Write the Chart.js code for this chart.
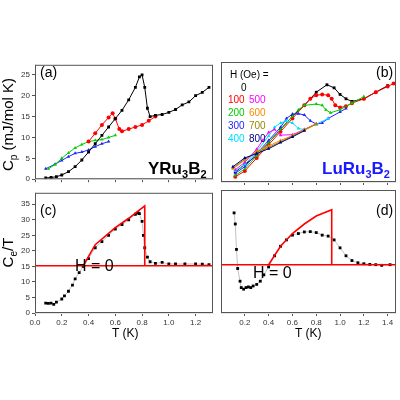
<!DOCTYPE html>
<html><head><meta charset="utf-8">
<script src="https://cdn.jsdelivr.net/npm/chart.js@4"></script>
<style>
body{margin:0;background:#fff;font-family:"Liberation Sans",Arial,sans-serif}
#w{position:relative;width:400px;height:400px;overflow:hidden}
.cv{position:absolute}
.t{position:absolute;white-space:nowrap;line-height:1}
</style></head><body><div id="w">
<div class="cv" style="left:0;top:58px;width:217px;height:128px"><canvas id="ca"></canvas></div>
<div class="cv" style="left:217px;top:58px;width:183px;height:128px"><canvas id="cb"></canvas></div>
<div class="cv" style="left:0;top:186px;width:217px;height:147px"><canvas id="cc"></canvas></div>
<div class="cv" style="left:217px;top:186px;width:183px;height:147px"><canvas id="cd"></canvas></div>
<div class="t" style="left:40px;top:65px;font-size:14px">(a)</div>
<div class="t" style="left:376px;top:65px;font-size:14px">(b)</div>
<div class="t" style="left:40px;top:203px;font-size:14px">(c)</div>
<div class="t" style="left:376px;top:203px;font-size:14px">(d)</div>
<div class="t" style="left:148px;top:160px;font-size:17px;font-weight:bold">YRu<sub style="font-size:11px">3</sub>B<sub style="font-size:11px">2</sub></div>
<div class="t" style="left:322px;top:160px;font-size:17px;font-weight:bold;color:#1a1aff">LuRu<sub style="font-size:11px">3</sub>B<sub style="font-size:11px">2</sub></div>
<div class="t" style="left:75px;top:258px;font-size:16px">H = 0</div>
<div class="t" style="left:253px;top:265px;font-size:16px">H = 0</div>
<div class="t" style="left:112px;top:327px;font-size:12px">T (K)</div>
<div class="t" style="left:295px;top:327px;font-size:12px">T (K)</div>
<div class="t" style="left:-46px;top:115px;font-size:15px;transform:rotate(-90deg);width:110px;text-align:center">C<sub style="font-size:10px">p</sub> (mJ/mol K)</div>
<div class="t" style="left:-16px;top:243px;font-size:15px;transform:rotate(-90deg);width:50px;text-align:center">C<sub style="font-size:10px">e</sub>/T</div>
<div class="t" style="left:230px;top:70px;font-size:10px">H (Oe) =</div>
<div class="t" style="left:241px;top:83px;font-size:10px">0</div>
<div class="t" style="left:228px;top:95px;font-size:10px;color:#f00">100</div>
<div class="t" style="left:228px;top:108px;font-size:10px;color:#0c0">200</div>
<div class="t" style="left:228px;top:121px;font-size:10px;color:#22f">300</div>
<div class="t" style="left:228px;top:134px;font-size:10px;color:#0df">400</div>
<div class="t" style="left:249px;top:95px;font-size:10px;color:#f0f">500</div>
<div class="t" style="left:249px;top:108px;font-size:10px;color:#f80">600</div>
<div class="t" style="left:249px;top:121px;font-size:10px;color:#998800">700</div>
<div class="t" style="left:249px;top:134px;font-size:10px;color:#000080">800</div>
</div>
<script>
// (a) YRu3B2
const aT0 = [0.08,0.12,0.16,0.2,0.25,0.3,0.35,0.4,0.45,0.5,0.55,0.6,0.65,0.7,0.75,0.78,0.8,0.82,0.84,0.86,0.9,0.95,1.0,1.05,1.1,1.15,1.2,1.25,1.3];
const aC0 = [0.3,0.4,0.6,1.0,1.8,3,4.6,6.5,8.5,10.5,12.5,14.5,16.5,19,22,24.5,25,22,17,15,15.3,15.5,16,16.7,17.8,18.5,20,20.8,22];
const aT1 = [0.4,0.45,0.5,0.55,0.58,0.6,0.63,0.65,0.7,0.75,0.8,0.85,0.9];
const aC1 = [9,11,13,14.8,15.8,14.5,12,11.5,12,12.5,13,14,15];
const aT2 = [0.1,0.15,0.2,0.25,0.3,0.35,0.4,0.45,0.5,0.55,0.6];
const aC2 = [2.5,3.5,5,6.3,7.5,8.3,9,9.3,9.5,10,10.5];
const aT3 = [0.08,0.15,0.2,0.25,0.3,0.35,0.4,0.45,0.5,0.55];
const aC3 = [2.5,3.6,4.5,5.4,6.2,6.5,7,7.8,8.5,9];
// (b) LuRu3B2, field in Oe
const bT0 = [0.12,0.2,0.3,0.4,0.5,0.6,0.7,0.8,0.89,0.95,1.0,1.05,1.1,1.2,1.3,1.4];
const bC0 = [2.3,4,6,9,12,15,17.5,20.5,22.2,21.5,20,19,18.4,19,20.5,22];
const bT100 = [0.12,0.2,0.3,0.4,0.5,0.6,0.7,0.75,0.8,0.85,0.9,0.93,0.96,1.0,1.05,1.1,1.2,1.3,1.4,1.45];
const bC100 = [1.2,2.5,5.5,8.5,11.5,14.5,17.5,19,19.8,20,19.8,19,17.5,17,17.3,18,19,20.5,21.8,22.5];
const bT200 = [0.12,0.2,0.3,0.4,0.5,0.6,0.65,0.7,0.8,0.85,0.88,0.92,1.0,1.1,1.2];
const bC200 = [1.5,3,6,9,12,15,16.5,17.5,17.8,17.5,16.5,15.8,16.5,18,19.5];
const bT300 = [0.12,0.2,0.3,0.4,0.5,0.55,0.6,0.65,0.7,0.75,0.8,0.85,0.9,1.0,1.05];
const bC300 = [2,3.5,6.5,9.5,12.5,14.5,15.5,15.6,15.3,14,13.2,13.5,14.5,16,16.8];
const bT400 = [0.12,0.2,0.3,0.4,0.45,0.5,0.55,0.6,0.65,0.7,0.8,0.9];
const bC400 = [2.5,4,7,10.5,12.5,13.5,13.9,13.5,12.2,12,13.2,14.5];
const bT500 = [0.12,0.2,0.3,0.35,0.4,0.45,0.5,0.6,0.7,0.8];
const bC500 = [2.8,4.5,7.5,9.5,11.3,12,10.7,10.8,12,13.3];
const bT600 = [0.1,0.2,0.3,0.4,0.5,0.6,0.7,0.8];
const bC600 = [3,5,7,8.2,9.5,10.6,12,13.3];
const bT700 = [0.1,0.2,0.3,0.4,0.5,0.6,0.7,0.8];
const bC700 = [3.2,5.2,6.8,7.9,9.2,10.5,11.8,13.2];
const bT800 = [0.1,0.2,0.3,0.4,0.5,0.6,0.7];
const bC800 = [3.5,5.5,6.5,7.6,9,10.3,11.7];
// (c) YRu3B2 Ce/T, H = 0
const cT = [0.08,0.1,0.12,0.14,0.16,0.2,0.22,0.25,0.28,0.3,0.33,0.36,0.4,0.45,0.5,0.55,0.6,0.65,0.7,0.75,0.77,0.78,0.8,0.81,0.82,0.84,0.86,0.9,0.95,1.0,1.05,1.12,1.2,1.25,1.3];
const cC = [3.2,3.1,3.2,2.8,3.5,4.5,5.5,7,9,11,13,15,17.5,21,23,25,27,28.5,30,31.8,32.2,32,29.5,25,21,18,16.5,16,16.3,15.8,15.8,15.8,15.8,15.7,15.6];
const cFitT = [0.36,0.45,0.6,0.7,0.82,0.82];
const cFitC = [15.2,22,27.5,30.5,34.5,15.2];
// (d) LuRu3B2 Ce/T, H = 0
const dT = [0.11,0.12,0.13,0.14,0.16,0.17,0.19,0.21,0.23,0.25,0.27,0.3,0.33,0.36,0.4,0.45,0.5,0.55,0.6,0.65,0.7,0.75,0.8,0.85,0.9,0.95,1.0,1.05,1.1,1.15,1.2,1.25,1.3,1.35,1.42];
const dC = [31.5,28,20,14,10,8,7.5,8,8.2,8,8.5,9,10,12,14.5,18,21,23,24.5,25,25.5,25.6,25.3,24.5,24.2,23,20.5,18,16.5,15.8,15.5,15.3,15.2,15,15.2];
const dFitT = [0.4,0.5,0.6,0.7,0.8,0.93,0.93];
const dFitC = [15.2,21,25,28,30.5,32.5,15.2];
const baseline = 15.2;

const zip = (t, c) => t.map((x, i) => ({x: x, y: c[i]}));

function ser(t, c, color, style, line) {
  return {data: zip(t, c), borderColor: line || color, backgroundColor: color,
    pointStyle: style, pointRadius: 2, pointBorderWidth: 0, borderWidth: line ? 0.6 : 1};
}
function redLine(t, c) {
  return {data: zip(t, c), borderColor: '#f00', borderWidth: 1.6, pointRadius: 0};
}

const frame = {
  id: 'frame',
  afterDraw(ch) {
    const a = ch.chartArea, g = ch.ctx;
    g.save(); g.strokeStyle = '#555'; g.lineWidth = 1;
    g.strokeRect(a.left + 0.5, a.top + 0.5, a.right - a.left - 1, a.bottom - a.top - 1);
    g.restore();
  }
};

// ticks only at multiples of the step, never at the axis ends
const fixTicks = (step, from) => s => {
  const out = [];
  for (let k = from; k * step <= s.max + 1e-9; k++) out.push({value: +(k * step).toFixed(3)});
  s.ticks = out;
};

function make(id, datasets, xmax, ymax, leftAxis, xlabels) {
  new Chart(document.getElementById(id), {
    type: 'line',
    data: {datasets: datasets},
    options: {
      responsive: true, maintainAspectRatio: false, animation: false,
      plugins: {legend: {display: false}, tooltip: {enabled: false}},
      layout: {padding: {right: 1, top: 0, left: 0, bottom: 0}},
      scales: {
        x: {type: 'linear', min: 0, max: xmax,
          afterBuildTicks: fixTicks(0.2, leftAxis ? 0 : 1),
          ticks: {display: xlabels, font: {size: 8}, color: '#333', padding: 2,
            autoSkip: false, maxRotation: 0, callback: v => v.toFixed(1)},
          grid: {drawOnChartArea: false, tickLength: 3, color: '#555'},
          afterFit: s => { s.height = xlabels ? 20 : 0; }},
        y: {display: leftAxis, min: 0, max: ymax,
          afterBuildTicks: fixTicks(5, 0),
          ticks: {font: {size: 8}, color: '#333', padding: 2},
          grid: {drawOnChartArea: false, tickLength: 3, color: '#555'},
          afterFit: s => { s.width = leftAxis ? 35 : 0; }}
      }
    },
    plugins: [frame]
  });
}

make('ca', [
  ser(aT0, aC0, '#000', 'rect'),
  ser(aT1, aC1, '#f00', 'circle'),
  ser(aT2, aC2, '#0c0', 'triangle'),
  ser(aT3, aC3, '#22f', 'triangle')
], 1.33, 27.4, true, false);

make('cb', [
  ser(bT800, bC800, '#000080', 'triangle'),
  ser(bT700, bC700, '#998800', 'triangle'),
  ser(bT600, bC600, '#f80', 'triangle'),
  ser(bT500, bC500, '#f0f', 'triangle'),
  ser(bT400, bC400, '#0df', 'triangle'),
  ser(bT300, bC300, '#22f', 'triangle'),
  ser(bT200, bC200, '#0c0', 'triangle'),
  ser(bT100, bC100, '#f00', 'circle'),
  ser(bT0, bC0, '#000', 'rect')
], 1.47, 27.4, false, false);

make('cc', [
  redLine([0, 1.33], [baseline, baseline]),
  redLine(cFitT, cFitC),
  ser(cT, cC, '#000', 'rect', '#999')
], 1.33, 38.7, true, true);

make('cd', [
  redLine([0, 1.47], [baseline, baseline]),
  redLine(dFitT, dFitC),
  ser(dT, dC, '#000', 'rect', '#999')
], 1.47, 38.7, false, true);
</script>
</body></html>
